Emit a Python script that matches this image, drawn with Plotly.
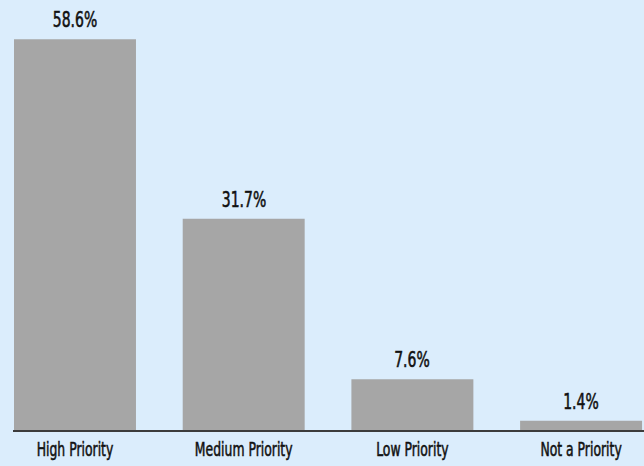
import plotly.graph_objects as go

categories = ["High Priority", "Medium Priority", "Low Priority", "Not a Priority"]
shares = [58.6, 31.7, 7.6, 1.4]
value_labels = ["58.6%", "31.7%", "7.6%", "1.4%"]

BG = "#dbedfc"
BAR = "#a6a6a6"
INK = "#111111"
FONT = "DejaVu Sans Condensed, DejaVu Sans, sans-serif"

fig = go.Figure()
fig.add_trace(go.Bar(
    x=list(range(len(categories))),
    y=shares,
    width=0.723,
    marker=dict(color=BAR, line=dict(width=0)),
    hoverinfo="skip",
))

for i, (v, lab) in enumerate(zip(shares, value_labels)):
    fig.add_annotation(
        x=i, y=v, text=lab, showarrow=False,
        yanchor="bottom", yshift=5,
        font=dict(family=FONT, size=21, color=INK),
    )

fig.update_layout(
    width=644, height=466,
    margin=dict(l=13, r=0, t=0, b=36),
    paper_bgcolor=BG, plot_bgcolor=BG,
    showlegend=False,
    font=dict(family=FONT, size=20, color=INK),
)
fig.update_xaxes(
    range=[-0.3675, 3.373],
    tickmode="array",
    tickvals=list(range(len(categories))),
    ticktext=categories,
    showgrid=False, zeroline=False,
    showline=True, linecolor="#3c3c3c", linewidth=2,
    ticks="", tickfont=dict(family=FONT, size=20, color=INK),
    ticklabeloverflow="allow",
    fixedrange=True,
)
fig.update_yaxes(
    range=[0, 64.5],
    visible=False, showgrid=False, zeroline=False,
    fixedrange=True,
)

# Narrow the labels horizontally around their own anchor and give them
# a slightly heavier stroke for a compressed, medium-weight look.
squeeze_js = """
var gd = document.getElementById('{plot_id}');
function squeeze() {
  var specs = [['.xtick text', 0.69], ['.annotation-text', 0.74]];
  specs.forEach(function (s) {
    gd.querySelectorAll(s[0]).forEach(function (el) {
      if (el.getAttribute('data-sq')) return;
      var x = parseFloat(el.getAttribute('x')) || 0;
      var t = el.getAttribute('transform') || '';
      el.setAttribute('transform', t + ' translate(' + x + ',0) scale(' + s[1] + ',1) translate(' + (-x) + ',0)');
      el.style.stroke = '#111111';
      el.style.strokeWidth = '0.55px';
      el.setAttribute('data-sq', '1');
    });
  });
}
squeeze();
gd.on('plotly_afterplot', squeeze);
"""

fig.write_html("out.html", config={"displayModeBar": False}, post_script=squeeze_js)
